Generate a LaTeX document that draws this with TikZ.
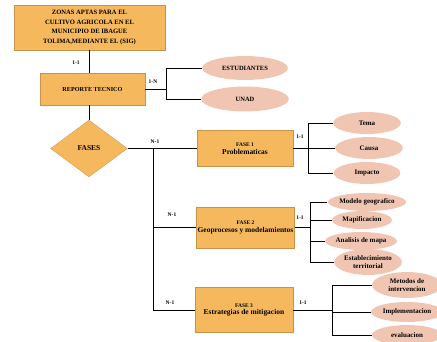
\documentclass[tikz,border=0pt]{standalone}
\usepackage{fontspec}
\setmainfont{Liberation Serif}
\usetikzlibrary{positioning,shapes.geometric,calc}
\definecolor{naranja}{RGB}{246,184,92}
\definecolor{rosa}{RGB}{240,198,178}
\begin{document}
\begin{tikzpicture}[
x=1bp,y=-1bp,
line width=1bp,
entidad/.style={fill=naranja,draw=naranja!80!black,line width=0.3bp,align=center,font=\bfseries\fontsize{6.2}{8}\selectfont,inner sep=1bp},
atrib/.style={ellipse,fill=rosa,draw=none,align=center,font=\bfseries\fontsize{7}{8}\selectfont,inner sep=0pt},
card/.style={font=\bfseries\fontsize{5.5}{6}\selectfont,inner sep=0pt},
]
\useasboundingbox (0,0) rectangle (437,341);

\node[entidad,minimum width=151,minimum height=45,font=\bfseries\fontsize{6.6}{9.4}\selectfont] (zonas) at (89.5,27.5) {ZONAS APTAS PARA EL\\CULTIVO AGRICOLA EN EL\\MUNICIPIO DE IBAGUE\\TOLIMA,MEDIANTE EL (SIG)};
\node[entidad,minimum width=105,minimum height=32] (rep) at (92.5,89) {REPORTE TECNICO};
\node[entidad,diamond,minimum width=77,minimum height=57,inner sep=0pt,font=\bfseries\fontsize{7.5}{8}\selectfont] (fases) at (89,148.5) {FASES};

\node[atrib,minimum width=86,minimum height=24,font=\bfseries\fontsize{6.5}{8}\selectfont] (est) at (245,68) {ESTUDIANTES};
\node[atrib,minimum width=88,minimum height=25,font=\bfseries\fontsize{6.5}{8}\selectfont] (unad) at (245,99) {UNAD};

\node[entidad,minimum width=96,minimum height=36] (f1) at (245,148.5) {\fontsize{5.5}{7}\selectfont FASE 1\\\fontsize{7.5}{9}\selectfont Problematicas};
\node[entidad,minimum width=95,minimum height=41] (f2) at (245.5,227.5) {\fontsize{5.5}{7}\selectfont FASE 2\\\fontsize{7.5}{9}\selectfont Geoprocesos y modelamientos};
\node[entidad,minimum width=98,minimum height=45] (f3) at (244,310) {\fontsize{5.5}{7}\selectfont FASE 3\\\fontsize{7.5}{9}\selectfont Estrategias de mitigacion};

\node[atrib,minimum width=68,minimum height=22] (tema) at (367,123) {Tema};
\node[atrib,minimum width=68,minimum height=22] (causa) at (369,148) {Causa};
\node[atrib,minimum width=67,minimum height=22] (imp) at (367,173) {Impacto};

\node[atrib,minimum width=70,minimum height=18] (mod) at (367,202) {Modelo geografico};
\node[atrib,minimum width=60,minimum height=18] (mapi) at (362,220) {Mapificacion};
\node[atrib,minimum width=64,minimum height=18] (anal) at (361,241) {Analisis de mapa};
\node[atrib,minimum width=68,minimum height=26] (estab) at (368,262) {Establecimiento\\territorial};

\node[atrib,minimum width=70,minimum height=26] (met) at (407,285) {Metodos de\\intervencion};
\node[atrib,minimum width=72,minimum height=20] (impl) at (407,312) {Implementacion};
\node[atrib,minimum width=70,minimum height=20] (eval) at (407,335) {evaluacion};

\node[card] (c1) at (76,63) {1-1};
\node[card] (c2) at (153,82) {1-N};
\node[card] (c3) at (155,142) {N-1};
\node[card] (c4) at (300,137) {1-1};
\node[card] (c5) at (172,215) {N-1};
\node[card] (c6) at (300,218) {1-1};
\node[card] (c7) at (170,303) {N-1};
\node[card] (c8) at (303,303) {1-1};

\coordinate (j1) at (166,89);
\coordinate (j2) at (153,148.5);
\coordinate (j3) at (308,148.5);
\coordinate (j4) at (310,227.5);
\coordinate (j5) at (332,310);

\draw (fases.north |- zonas.south) -- (fases.north |- rep.north);
\draw (fases.north |- rep.south) -- (fases.north);
\draw (rep.east) -- (j1);
\draw (j1) |- (est.west);
\draw (j1) |- (unad.west);
\draw (fases.east) -- (f1.west);
\draw (j2) |- (f2.west);
\draw (j2) |- (f3.west);
\draw (f1.east) -- (j3);
\draw (j3) |- (tema.west);
\draw (j3) |- (causa.west);
\draw (j3) |- (imp.west);
\draw (f2.east) -- (j4);
\draw (j4) |- (mod.west);
\draw (j4) |- (mapi.west);
\draw (j4) |- (anal.west);
\draw (j4) |- (estab.west);
\draw (f3.east) -- (j5);
\draw (j5) |- (met.west);
\draw (j5) |- (impl.west);
\draw (j5) |- (eval.west);

\end{tikzpicture}
\end{document}
